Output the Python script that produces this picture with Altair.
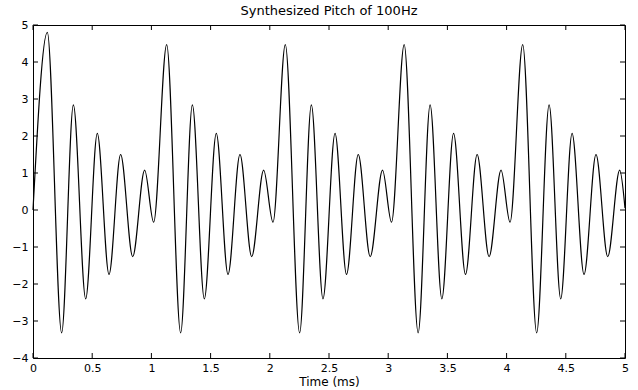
import altair as alt
import pandas as pd

t = [0.000, 0.121, 0.242, 0.341, 0.445, 0.543, 0.642, 0.740, 0.842, 0.943, 1.019,
     1.129, 1.247, 1.346, 1.447, 1.548, 1.647, 1.748, 1.847, 1.948, 2.027,
     2.131, 2.252, 2.351, 2.449, 2.551, 2.648, 2.747, 2.848, 2.952, 3.028,
     3.135, 3.253, 3.354, 3.453, 3.552, 3.653, 3.751, 3.852, 3.953, 4.029,
     4.136, 4.254, 4.359, 4.457, 4.553, 4.654, 4.755, 4.854, 4.955, 5.000]
v = [0.00, 4.80, -3.32, 2.84, -2.40, 2.07, -1.74, 1.50, -1.26, 1.08, -0.33,
     4.47, -3.32, 2.84, -2.40, 2.07, -1.74, 1.50, -1.26, 1.08, -0.33,
     4.47, -3.32, 2.84, -2.40, 2.07, -1.74, 1.50, -1.26, 1.08, -0.33,
     4.47, -3.32, 2.84, -2.40, 2.07, -1.74, 1.50, -1.26, 1.08, -0.33,
     4.47, -3.32, 2.84, -2.40, 2.07, -1.74, 1.50, -1.26, 1.08, 0.05]

x_ticks = [0, 0.5, 1, 1.5, 2, 2.5, 3, 3.5, 4, 4.5, 5]
y_ticks = [-4, -3, -2, -1, 0, 1, 2, 3, 4, 5]

W, H = 592, 333
FONT = "DejaVu Sans"

df = pd.DataFrame({"t": t, "v": v})
xt = pd.DataFrame({"t": x_ticks})
yt = pd.DataFrame({"v": y_ticks})

xscale = alt.Scale(domain=[0, 5], nice=False, zero=False)
yscale = alt.Scale(domain=[-4, 5], nice=False, zero=False)

xaxis = alt.Axis(values=x_ticks, format="~g", title="Time (ms)",
                 ticks=False, domain=False, grid=False,
                 labelPadding=4, titlePadding=3,
                 labelFont=FONT, labelFontSize=11, labelColor="black",
                 titleFont=FONT, titleFontSize=12, titleFontWeight="normal",
                 titleColor="black", labelFlush=False)
yaxis = alt.Axis(values=y_ticks, format="~g", title=None,
                 ticks=False, domain=False, grid=False,
                 labelPadding=5, labelFont=FONT, labelFontSize=11,
                 labelColor="black", labelFlush=False)

line = alt.Chart(df).mark_line(
    color="black", strokeWidth=1.2, interpolate="monotone"
).encode(
    x=alt.X("t:Q", scale=xscale, axis=xaxis),
    y=alt.Y("v:Q", scale=yscale, axis=yaxis),
)

xt_top = alt.Chart(xt).mark_rule(color="black", strokeWidth=1).encode(
    x=alt.X("t:Q", scale=xscale, axis=xaxis), y=alt.value(0), y2=alt.value(5))
xt_bot = alt.Chart(xt).mark_rule(color="black", strokeWidth=1).encode(
    x=alt.X("t:Q", scale=xscale, axis=xaxis), y=alt.value(H - 5), y2=alt.value(H))
yt_left = alt.Chart(yt).mark_rule(color="black", strokeWidth=1).encode(
    y=alt.Y("v:Q", scale=yscale, axis=yaxis), x=alt.value(0), x2=alt.value(5))
yt_right = alt.Chart(yt).mark_rule(color="black", strokeWidth=1).encode(
    y=alt.Y("v:Q", scale=yscale, axis=yaxis), x=alt.value(W - 5), x2=alt.value(W))

chart = alt.layer(line, xt_top, xt_bot, yt_left, yt_right).properties(
    width=W, height=H,
    title=alt.TitleParams("Synthesized Pitch of 100Hz", font=FONT, fontSize=13,
                          fontWeight="normal", color="black", anchor="middle",
                          offset=1),
    autosize=alt.AutoSizeParams(type="none"),
    padding={"left": 33, "top": 25, "right": 13, "bottom": 32},
    background="white",
).configure_view(stroke="black", strokeWidth=1)

chart.save("out.html", embed_options={"renderer": "svg", "actions": False})
